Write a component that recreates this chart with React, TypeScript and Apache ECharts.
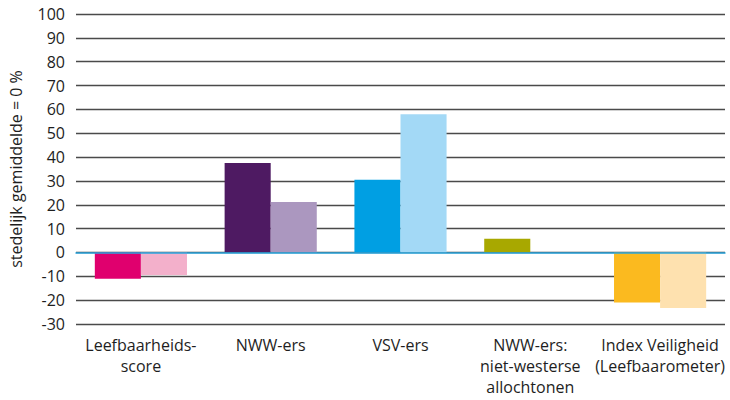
import React, { useEffect, useRef } from "react";
import * as echarts from "echarts";

const categories = [
  "Leefbaarheids-\nscore",
  "NWW-ers",
  "VSV-ers",
  "NWW-ers:\nniet-westerse\nallochtonen",
  "Index Veiligheid\n(Leefbaarometer)",
];
const darkValues: (number | null)[] = [-11, 37.5, 30.5, 5.7, -21];
const lightValues: (number | null)[] = [-9.5, 21.2, 58, null, -23.3];
const darkColors = ["#E0006E", "#4E1A62", "#009FE3", "#A8A800", "#FBBA1F"];
const lightColors = ["#F3B0CB", "#AB97BF", "#A3D9F6", "#D8D27A", "#FEE1AF"];
const yTicks = { min: -30, max: 100, interval: 10 };
const yAxisTitle = "stedelijk gemiddelde = 0 %";

const FONT = "'Open Sans', 'Noto Sans', sans-serif";

export default function App() {
  const ref = useRef<HTMLDivElement>(null);
  useEffect(() => {
    if (!ref.current) return;
    const chart = echarts.init(ref.current, null, { renderer: "svg" });
    chart.setOption({
      animation: false,
      grid: { left: 76, right: 5, top: 14, bottom: 76 },
      xAxis: {
        type: "category",
        data: categories,
        axisLine: { onZero: true, lineStyle: { color: "#2AA7DF", width: 1.5 } },
        axisTick: { show: false },
        axisLabel: {
          color: "#1e1e1e",
          fontFamily: FONT,
          fontSize: 16,
          lineHeight: 21,
          interval: 0,
          margin: 10,
        },
        z: 5,
      },
      yAxis: {
        type: "value",
        min: yTicks.min,
        max: yTicks.max,
        interval: yTicks.interval,
        axisLine: { show: false },
        axisTick: { show: false },
        splitLine: { lineStyle: { color: "#4a4a4a", width: 1.3 } },
        axisLabel: {
          color: "#1e1e1e",
          fontFamily: FONT,
          fontSize: 16,
          margin: 11,
        },
        name: yAxisTitle,
        nameLocation: "middle",
        nameRotate: 90,
        nameGap: 52,
        nameTextStyle: { color: "#1e1e1e", fontFamily: FONT, fontSize: 16 },
      },
      series: [
        {
          type: "bar",
          barWidth: "35.5%",
          barGap: "0%",
          data: darkValues.map((v, i) => ({ value: v, itemStyle: { color: darkColors[i] } })),
        },
        {
          type: "bar",
          barWidth: "35.5%",
          barGap: "0%",
          data: lightValues.map((v, i) => ({ value: v, itemStyle: { color: lightColors[i] } })),
        },
      ],
    });
    return () => chart.dispose();
  }, []);
  return (
    <div
      ref={ref}
      style={{ position: "fixed", left: 0, top: 0, width: 730, height: 400, background: "#fff" }}
    />
  );
}
